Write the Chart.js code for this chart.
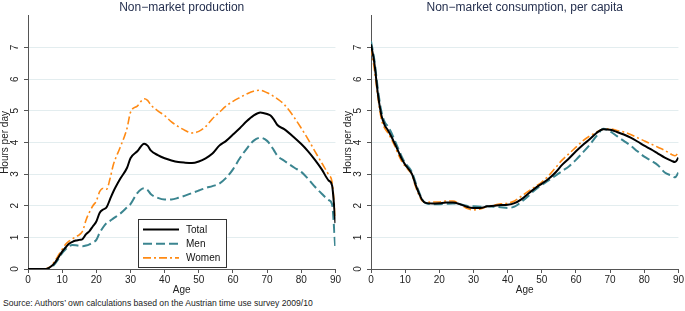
<!DOCTYPE html>
<html>
<head>
<meta charset="utf-8">
<script src="https://cdn.jsdelivr.net/npm/chart.js@4"></script>
<style>
  body { margin: 0; background: #fff; width: 685px; height: 311px; position: relative; overflow: hidden; font-family: "Liberation Sans", Arial, sans-serif; }
  #prod { position: absolute; left: 0; top: 0; }
  #cons { position: absolute; left: 343px; top: 0; }
  #src { position: absolute; left: 3px; top: 298px; font-size: 8.6px; color: #222; white-space: nowrap; }
</style>
</head>
<body>
<canvas id="prod" width="342" height="298"></canvas>
<canvas id="cons" width="342" height="298"></canvas>
<div id="src">Source: Authors’ own calculations based on the Austrian time use survey 2009/10</div>
<script>
// Non-market production, hours per day by age
const prodAges = [0, 2, 4, 5, 6, 7, 8, 9, 10, 11, 12, 13, 14, 15, 16, 17, 18, 19, 20, 21, 22, 23, 24, 25,
  27, 29, 30, 32, 34, 35, 36, 38, 40, 42, 44, 46, 48, 50, 52, 54, 56, 58, 60, 62, 64, 66, 68, 70,
  71, 72, 73, 75, 78, 80, 82, 84, 86, 88, 89, 90];
const prodTotal = [0, 0, 0, 0, 0.03, 0.1, 0.22, 0.38, 0.55, 0.68, 0.8, 0.86, 0.9, 0.92, 0.95, 1.1, 1.2, 1.35, 1.5, 1.78, 1.88, 1.95, 2.2, 2.45,
  2.85, 3.2, 3.5, 3.72, 3.96, 3.9, 3.74, 3.6, 3.5, 3.43, 3.38, 3.36, 3.35, 3.4, 3.5, 3.65, 3.9, 4.05, 4.25, 4.45, 4.67, 4.85, 4.95, 4.9,
  4.85, 4.72, 4.55, 4.42, 4.15, 3.95, 3.72, 3.45, 3.15, 2.8, 2.65, 1.45];
const prodMen = [0, 0, 0, 0, 0.02, 0.06, 0.18, 0.33, 0.5, 0.62, 0.72, 0.76, 0.75, 0.73, 0.72, 0.74, 0.78, 0.84, 0.92, 1.15, 1.32, 1.45, 1.52, 1.6,
  1.75, 1.95, 2.05, 2.4, 2.55, 2.5, 2.36, 2.25, 2.2, 2.2, 2.25, 2.32, 2.4, 2.48, 2.56, 2.62, 2.7, 2.88, 3.15, 3.5, 3.8, 4.05, 4.15, 4.05,
  3.92, 3.75, 3.58, 3.42, 3.2, 3.07, 2.85, 2.6, 2.38, 2.18, 2.05, 0.6];
const prodWomen = [0, 0, 0, 0, 0.04, 0.12, 0.28, 0.45, 0.62, 0.78, 0.88, 0.95, 1.02, 1.08, 1.2, 1.55, 1.8, 2.0, 2.15, 2.45, 2.55, 2.52, 2.85, 3.3,
  3.85, 4.45, 4.95, 5.15, 5.38, 5.33, 5.18, 5.0, 4.85, 4.65, 4.5, 4.38, 4.3, 4.35, 4.5, 4.75, 4.95, 5.15, 5.3, 5.42, 5.53, 5.62, 5.65, 5.57,
  5.52, 5.45, 5.38, 5.2, 4.78, 4.45, 4.1, 3.72, 3.35, 2.98, 2.75, 1.65];

// Non-market consumption per capita, hours per day by age
const consAges = [0, 1, 2, 3, 4, 5, 6, 7, 8, 9, 10, 11, 12, 13, 14, 15, 16,
  18, 20, 22, 24, 26, 28, 30, 32, 34, 36, 38, 40, 42, 44, 46, 48, 50, 52, 54, 56, 58, 60,
  62, 64, 66, 68, 70, 72, 74, 76, 78, 80, 82, 84, 86, 88, 89, 90];
const consTotal = [7.1, 6.5, 5.55, 4.88, 4.55, 4.38, 4.18, 3.95, 3.72, 3.48, 3.3, 3.16, 3.0, 2.68, 2.4, 2.18, 2.09,
  2.07, 2.08, 2.1, 2.1, 2.05, 1.97, 1.93, 1.93, 1.98, 2.0, 2.02, 2.03, 2.08, 2.2, 2.38, 2.55, 2.7, 2.85, 3.05, 3.3, 3.5, 3.72,
  3.92, 4.1, 4.3, 4.42, 4.4, 4.33, 4.25, 4.15, 4.03, 3.9, 3.78, 3.65, 3.52, 3.42, 3.38, 3.52];
const consMen = [7.2, 6.6, 5.7, 5.0, 4.65, 4.5, 4.3, 4.05, 3.8, 3.55, 3.35, 3.22, 3.06, 2.75, 2.45, 2.2, 2.08,
  2.05, 2.05, 2.06, 2.07, 2.05, 2.0, 1.98, 1.97, 1.98, 1.97, 1.95, 1.93, 1.97, 2.12, 2.3, 2.5, 2.66, 2.8, 2.95, 3.1, 3.25, 3.45,
  3.68, 3.92, 4.2, 4.43, 4.35, 4.2, 4.05, 3.9, 3.72, 3.55, 3.42, 3.28, 3.05, 2.95, 2.9, 3.05];
const consWomen = [7.0, 6.3, 5.45, 4.75, 4.45, 4.3, 4.1, 3.88, 3.62, 3.4, 3.25, 3.12, 2.98, 2.62, 2.35, 2.15, 2.1,
  2.12, 2.12, 2.15, 2.15, 2.05, 1.92, 1.87, 1.9, 1.97, 2.02, 2.06, 2.08, 2.15, 2.3, 2.45, 2.6, 2.75, 2.95, 3.2, 3.45, 3.65, 3.85,
  4.05, 4.2, 4.32, 4.42, 4.43, 4.38, 4.33, 4.25, 4.15, 4.05, 3.95, 3.85, 3.75, 3.62, 3.58, 3.68];

const yTicks = [0, 1, 2, 3, 4, 5, 6, 7];
const seriesNames = ["Total", "Men", "Women"];

const FONT = '"Liberation Sans", Arial, sans-serif';
const AXIS = "#555";
const GRID = "#e3edef";
const styles = [
  { borderColor: "#000000", borderWidth: 2, borderDash: [] },
  { borderColor: "#3b8590", borderWidth: 2, borderDash: [9, 4] },
  { borderColor: "#ff8a14", borderWidth: 1.6, borderDash: [8, 3, 2, 3] },
];

// legend box drawn inside the plot area
const boxLegend = {
  id: "boxLegend",
  afterDraw(chart, args, opts) {
    if (!opts.show) return;
    const ctx = chart.ctx;
    const { x, y, w, h } = opts;
    ctx.save();
    ctx.fillStyle = "#fff";
    ctx.fillRect(x, y, w, h);
    ctx.strokeStyle = "#333";
    ctx.lineWidth = 1;
    ctx.strokeRect(x + 0.5, y + 0.5, w, h);
    chart.data.datasets.forEach((ds, i) => {
      const ly = y + 10.5 + i * 14.2;
      ctx.setLineDash(ds.borderDash);
      ctx.strokeStyle = ds.borderColor;
      ctx.lineWidth = ds.borderWidth;
      ctx.beginPath();
      ctx.moveTo(x + 5, ly);
      ctx.lineTo(x + 41, ly);
      ctx.stroke();
      ctx.setLineDash([]);
      ctx.fillStyle = "#111";
      ctx.font = "10px " + FONT;
      ctx.textBaseline = "middle";
      ctx.fillText(ds.label, x + 48, ly + 0.5);
    });
    ctx.restore();
  },
};

function makeChart(id, title, ages, series, legend) {
  return new Chart(document.getElementById(id), {
    type: "line",
    data: {
      datasets: series.map((vals, i) => ({
        label: seriesNames[i],
        data: ages.map((a, j) => ({ x: a, y: vals[j] })),
        ...styles[i],
        pointRadius: 0,
        fill: false,
        cubicInterpolationMode: "monotone",
      })),
    },
    options: {
      responsive: false,
      animation: false,
      layout: { padding: { left: 0, right: 5, top: 0, bottom: 0 } },
      plugins: {
        legend: { display: false },
        tooltip: { enabled: false },
        title: {
          display: true, text: title, fullSize: false, color: "#25304f",
          font: { family: FONT, size: 12, weight: "normal" }, padding: { top: 0, bottom: 1.5 },
        },
        boxLegend: legend,
      },
      scales: {
        x: {
          type: "linear", min: 0, max: 90,
          ticks: { stepSize: 10, color: "#222", font: { family: FONT, size: 10 }, padding: 1, maxRotation: 0 },
          grid: { drawOnChartArea: false, tickColor: AXIS, tickLength: 4 },
          border: { color: AXIS },
          title: { display: true, text: "Age", color: "#222", font: { family: FONT, size: 10 }, padding: { top: 0, bottom: 2 } },
          afterFit: (s) => { s.height = 29; },
        },
        y: {
          min: 0, max: 8,
          afterBuildTicks: (s) => { s.ticks = yTicks.map((v) => ({ value: v })); },
          ticks: { color: "#222", font: { family: FONT, size: 10 }, minRotation: 90, maxRotation: 90, crossAlign: "center", padding: 6 },
          grid: { color: GRID, tickColor: AXIS, tickLength: 4 },
          border: { color: AXIS },
          title: { display: true, text: "Hours per day", color: "#222", font: { family: FONT, size: 10, lineHeight: 1 }, padding: 0 },
          afterFit: (s) => { s.width = 28; },
        },
      },
    },
    plugins: [boxLegend],
  });
}

makeChart("prod", "Non−market production", prodAges, [prodTotal, prodMen, prodWomen],
  { show: true, x: 138, y: 219, w: 88, h: 48 });
makeChart("cons", "Non−market consumption, per capita", consAges, [consTotal, consMen, consWomen],
  { show: false });
</script>
</body>
</html>
